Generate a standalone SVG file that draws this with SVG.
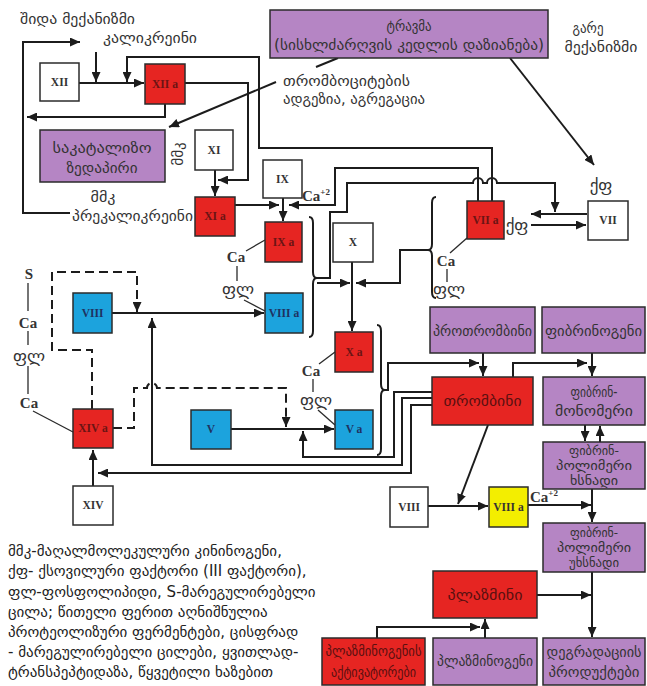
<svg xmlns="http://www.w3.org/2000/svg" width="647" height="686" viewBox="0 0 647 686">
<style>
.ln{stroke:#1c1c1c;stroke-width:2;fill:none}
.ds{stroke-dasharray:9,5}
.th{stroke:#2a2a2a;stroke-width:1.3;fill:none}
.bx{stroke:#2b2b2b;stroke-width:1.5}
.w{fill:#ffffff}
.r{fill:#e62522}
.b{fill:#1ca3dd}
.p{fill:#b585c4}
.y{fill:#f3ee00}
.rn{font-family:"Liberation Serif",serif;font-weight:bold;font-size:11.5px;text-anchor:middle}
.rw{fill:#333}
.rr{fill:#6b1414}
.rb{fill:#1f3260}
.g{font-family:"DejaVu Sans",sans-serif;font-size:15px;fill:#333}
.c{text-anchor:middle}
.gr{fill:#5a1010}
.ca{font-family:"Liberation Serif",serif;font-weight:bold;font-size:15px;fill:#333;text-anchor:middle}
.sup{font-size:9px}
.fl{font-family:"DejaVu Sans",sans-serif;font-size:17px;fill:#333;text-anchor:middle}
.lg{font-family:"DejaVu Sans",sans-serif;font-size:15px;fill:#222}
.s3{font-size:12px}
</style>
<defs>
<marker id="ah" markerUnits="userSpaceOnUse" markerWidth="11" markerHeight="9" refX="10" refY="4.5" orient="auto">
<path d="M0,0 L10,4.5 L0,9 z" fill="#1c1c1c"/>
</marker>
</defs>
<rect width="647" height="686" fill="#ffffff"/>

<!-- free labels -->
<text class="g" x="20" y="24" textLength="115" lengthAdjust="spacingAndGlyphs">შიდა მექანიზმი</text>
<text class="g" x="103" y="43" textLength="94" lengthAdjust="spacingAndGlyphs">კალიკრეინი</text>
<text class="g c" x="588" y="33" font-size="14" textLength="31" lengthAdjust="spacingAndGlyphs">გარე</text>
<text class="g c" x="601" y="52" font-size="14" textLength="73" lengthAdjust="spacingAndGlyphs">მექანიზმი</text>
<text class="g" x="283" y="86" textLength="127" lengthAdjust="spacingAndGlyphs">თრომბოციტების</text>
<text class="g" x="283" y="104" textLength="142" lengthAdjust="spacingAndGlyphs">ადგეზია, აგრეგაცია</text>
<text class="g c" transform="translate(183,154) rotate(-90)" font-size="14">მმკ</text>
<text class="g c" x="103" y="202" font-size="13" textLength="25" lengthAdjust="spacingAndGlyphs">მმკ</text>
<text class="g" x="72" y="221" textLength="121" lengthAdjust="spacingAndGlyphs">პრეკალიკრეინი</text>
<text class="ca" x="316" y="201">Ca<tspan class="sup" dy="-6">+2</tspan></text>
<text class="fl" x="601" y="191">ქფ</text>
<text class="fl" x="517" y="231">ქფ</text>
<text class="ca" x="236" y="262">Ca</text>
<text class="fl" x="238" y="295">ფლ</text>
<text class="ca" x="446" y="266">Ca</text>
<text class="fl" x="449" y="295">ფლ</text>
<text class="ca" x="311" y="376">Ca</text>
<text class="fl" x="316" y="406">ფლ</text>
<text class="ca" x="29" y="279">S</text>
<text class="ca" x="28" y="328">Ca</text>
<text class="fl" x="29" y="362">ფლ</text>
<text class="ca" x="29" y="408">Ca</text>
<text class="ca" x="544" y="502">Ca<tspan class="sup" dy="-6">+2</tspan></text>

<!-- legend -->
<g id="legend">
<text class="lg" x="8" y="556">მმკ-მაღალმოლეკულური კინინოგენი,</text>
<text class="lg" x="8" y="576">ქფ- ქსოვილური ფაქტორი (III ფაქტორი),</text>
<text class="lg" x="8" y="597">ფლ-ფოსფოლიპიდი,  S-მარეგულირებელი</text>
<text class="lg" x="8" y="617">ცილა;  წითელი ფერით აღნიშნულია</text>
<text class="lg" x="8" y="637">პროტეოლიზური ფერმენტები, ცისფრად</text>
<text class="lg" x="8" y="657">- მარეგულირებელი ცილები, ყვითლად-</text>
<text class="lg" x="8" y="677">ტრანსპეპტიდაზა, წყვეტილი ხაზებით</text>
</g>

<!-- connectors -->
<g id="connectors">
<path class="ln" d="M70,213 H23 V42 H80" marker-end="url(#ah)"/>
<path class="ln" d="M96,52 V82" marker-end="url(#ah)"/>
<path class="ln" d="M79,83 H144" marker-end="url(#ah)"/>
<path class="ln" d="M492,201 V148 H259 V57 H127 V82" marker-end="url(#ah)"/>
<path class="ln" d="M185,83 H248 V180 H218" marker-end="url(#ah)"/>
<path class="ln" d="M165,104 V117 H27" marker-end="url(#ah)"/>
<path class="ln" d="M276,82 L169,127" marker-end="url(#ah)"/>
<path class="ln" d="M338,58 L316,67"/>
<path class="ln" d="M510,58 L594,165" marker-end="url(#ah)"/>
<path class="ln" d="M215,170 V196" marker-end="url(#ah)"/>
<path class="ln" d="M235,205 H279" marker-end="url(#ah)"/>
<path class="ln" d="M283,198 V221" marker-end="url(#ah)"/>
<path class="ln" d="M478,201 V168 H335 V205 H289" marker-end="url(#ah)"/>
<path class="ln" d="M317,278 H330 V212 H347 V183 H473 a5,5 0 0 1 10,0 H487 a5,5 0 0 1 10,0 H555 V212" marker-end="url(#ah)"/>
<path class="ln" d="M317,283 H350" marker-end="url(#ah)"/>
<path class="ln" d="M428,250 H400 V283 H356" marker-end="url(#ah)"/>
<path class="ln" d="M352,262 V331" marker-end="url(#ah)"/>
<path class="ln" d="M587,214 H531" marker-end="url(#ah)"/>
<path class="ln" d="M531,225 H586" marker-end="url(#ah)"/>
<path class="ln" d="M112,313 H264" marker-end="url(#ah)"/>
<path class="ln ds" d="M92,409 V350 H52 V272 H137 V312" marker-end="url(#ah)"/>
<path class="ln" d="M432,398 H402 V465 H152 V318" marker-end="url(#ah)"/>
<path class="ln" d="M432,392 H394 V457 H303 V431" marker-end="url(#ah)"/>
<path class="ln" d="M432,405 H411 V473 H98" marker-end="url(#ah)"/>
<path class="ln" d="M93,486 V450" marker-end="url(#ah)"/>
<path class="ln ds" d="M113,428 H134 V388 H147 a5,5 0 0 1 10,0 H286 V427" marker-end="url(#ah)"/>
<path class="ln" d="M231,429 H334" marker-end="url(#ah)"/>
<path class="ln" d="M385,390 H388 V363 H479" marker-end="url(#ah)"/>
<path class="ln" d="M483,353 V376" marker-end="url(#ah)"/>
<path class="ln" d="M513,377 V363 H587" marker-end="url(#ah)"/>
<path class="ln" d="M592,353 V376" marker-end="url(#ah)"/>
<path class="ln" d="M585,425 V441" marker-end="url(#ah)"/>
<path class="ln" d="M600,442 V426" marker-end="url(#ah)"/>
<path class="ln" d="M428,506 H488" marker-end="url(#ah)"/>
<path class="ln" d="M488,425 L458,504" marker-end="url(#ah)"/>
<path class="ln" d="M528,505 H591" marker-end="url(#ah)"/>
<path class="ln" d="M592,489 V522" marker-end="url(#ah)"/>
<path class="ln" d="M537,595 H591" marker-end="url(#ah)"/>
<path class="ln" d="M592,572 V637" marker-end="url(#ah)"/>
<path class="ln" d="M485,638 V619" marker-end="url(#ah)"/>
<path class="ln" d="M377,638 V627 H480" marker-end="url(#ah)"/>
<!-- braces -->
<path class="ln" d="M309,217 Q313,217 313,223 L313,272 Q313,278 317,278 Q313,278 313,284 L313,331 Q313,337 309,337"/>
<path class="ln" d="M377,325 Q381,325 381,331 L381,384 Q381,390 385,390 Q381,390 381,396 L381,449 Q381,455 377,455"/>
<path class="ln" d="M436,197 Q432,197 432,203 L432,244 Q432,250 428,250 Q432,250 432,256 L432,292 Q432,298 436,298"/>
<!-- label connectors -->
<path class="th" d="M265,240 L246,251"/>
<path class="th" d="M237,266 V281"/>
<path class="th" d="M244,300 L265,311"/>
<path class="th" d="M467,238 L450,253"/>
<path class="th" d="M447,269 V282"/>
<path class="th" d="M335,352 L319,364"/>
<path class="th" d="M313,379 V392"/>
<path class="th" d="M318,410 L335,425"/>
<path class="th" d="M28,283 V311"/>
<path class="th" d="M28,331 V345"/>
<path class="th" d="M28,366 V394"/>
<path class="th" d="M33,411 L73,432"/>
</g>

<!-- nodes -->
<g id="n-XII"><rect class="bx w" x="40" y="63" width="39" height="38"/><text class="rn rw" x="59.5" y="86">XII</text></g>
<g id="n-XIIa"><rect class="bx r" x="145" y="64" width="40" height="40"/><text class="rn rr" x="165" y="88">XII a</text></g>
<g id="n-trauma"><rect class="bx p" x="270" y="10" width="278" height="48"/><text class="g c" x="409" y="31" textLength="45" lengthAdjust="spacingAndGlyphs">ტრავმა</text><text class="g c" x="409" y="50" textLength="270" lengthAdjust="spacingAndGlyphs">(სისხლძარღვის კედლის დაზიანება)</text></g>
<g id="n-catalytic"><rect class="bx p" x="40" y="130" width="125" height="52"/><text class="g c" x="102" y="153" textLength="99" lengthAdjust="spacingAndGlyphs">საკატალიზო</text><text class="g c" x="102" y="173" textLength="71" lengthAdjust="spacingAndGlyphs">ზედაპირი</text></g>
<g id="n-XI"><rect class="bx w" x="195" y="130" width="38" height="40"/><text class="rn rw" x="214" y="154">XI</text></g>
<g id="n-XIa"><rect class="bx r" x="195" y="197" width="40" height="39"/><text class="rn rr" x="215" y="220">XI a</text></g>
<g id="n-IX"><rect class="bx w" x="263" y="160" width="39" height="38"/><text class="rn rw" x="282.5" y="183">IX</text></g>
<g id="n-IXa"><rect class="bx r" x="265" y="222" width="37" height="40"/><text class="rn rr" x="283.5" y="246">IX a</text></g>
<g id="n-VIII"><rect class="bx b" x="73" y="293" width="39" height="40"/><text class="rn rb" x="92.5" y="317">VIII</text></g>
<g id="n-VIIIa"><rect class="bx b" x="265" y="293" width="38" height="40"/><text class="rn rb" x="284" y="317">VIII a</text></g>
<g id="n-X"><rect class="bx w" x="333" y="223" width="40" height="39"/><text class="rn rw" x="353" y="246">X</text></g>
<g id="n-Xa"><rect class="bx r" x="335" y="332" width="38" height="40"/><text class="rn rr" x="354" y="356">X a</text></g>
<g id="n-VIIa"><rect class="bx r" x="467" y="201" width="37" height="38"/><text class="rn rr" x="485.5" y="224">VII a</text></g>
<g id="n-VII"><rect class="bx w" x="588" y="201" width="40" height="39"/><text class="rn rw" x="608" y="224">VII</text></g>
<g id="n-V"><rect class="bx b" x="191" y="410" width="40" height="39"/><text class="rn rb" x="211" y="433">V</text></g>
<g id="n-Va"><rect class="bx b" x="335" y="410" width="38" height="39"/><text class="rn rb" x="354" y="433">V a</text></g>
<g id="n-XIVa"><rect class="bx r" x="73" y="409" width="40" height="39"/><text class="rn rr" x="93" y="432">XIV a</text></g>
<g id="n-XIV"><rect class="bx w" x="73" y="486" width="40" height="39"/><text class="rn rw" x="93" y="509">XIV</text></g>
<g id="n-prothrombin"><rect class="bx p" x="430" y="307" width="105" height="46"/><text class="g c" x="482.5" y="336" textLength="99" lengthAdjust="spacingAndGlyphs">პროთრომბინი</text></g>
<g id="n-fibrinogen"><rect class="bx p" x="542" y="307" width="103" height="46"/><text class="g c" x="593.5" y="336" textLength="97" lengthAdjust="spacingAndGlyphs">ფიბრინოგენი</text></g>
<g id="n-thrombin"><rect class="bx r" x="432" y="377" width="101" height="48"/><text class="g c gr" x="482.5" y="406" font-size="16" textLength="78" lengthAdjust="spacingAndGlyphs">თრომბინი</text></g>
<g id="n-monomer"><rect class="bx p" x="543" y="377" width="102" height="48"/><text class="g c" x="594" y="397" textLength="47" lengthAdjust="spacingAndGlyphs">ფიბრინ-</text><text class="g c" x="594" y="416" textLength="78" lengthAdjust="spacingAndGlyphs">მონომერი</text></g>
<g id="n-polymer-soluble"><rect class="bx p" x="543" y="442" width="102" height="47"/><text class="g c s3" x="594" y="455" textLength="50" lengthAdjust="spacingAndGlyphs">ფიბრინ-</text><text class="g c s3" x="594" y="470" textLength="76" lengthAdjust="spacingAndGlyphs">პოლიმერი</text><text class="g c s3" x="594" y="485" textLength="48" lengthAdjust="spacingAndGlyphs">ხსნადი</text></g>
<g id="n-VIII-2"><rect class="bx w" x="390" y="487" width="38" height="40"/><text class="rn rw" x="409" y="511">VIII</text></g>
<g id="n-VIIIa-2"><rect class="bx y" x="489" y="487" width="39" height="40"/><text class="rn rw" x="508.5" y="511">VIII a</text></g>
<g id="n-polymer-insoluble"><rect class="bx p" x="543" y="523" width="102" height="49"/><text class="g c s3" x="594" y="537" textLength="48" lengthAdjust="spacingAndGlyphs">ფიბრინ-</text><text class="g c s3" x="594" y="552" textLength="74" lengthAdjust="spacingAndGlyphs">პოლიმერი</text><text class="g c s3" x="594" y="567" textLength="50" lengthAdjust="spacingAndGlyphs">უხსნადი</text></g>
<g id="n-plasmin"><rect class="bx r" x="433" y="571" width="104" height="47"/><text class="g c gr" x="485" y="600" textLength="75" lengthAdjust="spacingAndGlyphs">პლაზმინი</text></g>
<g id="n-activators"><rect class="bx r" x="322" y="638" width="103" height="47"/><text class="g c gr" x="373.5" y="656" font-size="14" textLength="96" lengthAdjust="spacingAndGlyphs">პლაზმინოგენის</text><text class="g c gr" x="373.5" y="677" font-size="14" textLength="85" lengthAdjust="spacingAndGlyphs">აქტივატორები</text></g>
<g id="n-plasminogen"><rect class="bx p" x="433" y="638" width="104" height="47"/><text class="g c" x="485" y="666" textLength="96" lengthAdjust="spacingAndGlyphs">პლაზმინოგენი</text></g>
<g id="n-degradation"><rect class="bx p" x="543" y="638" width="102" height="47"/><text class="g c" x="594" y="657" textLength="95" lengthAdjust="spacingAndGlyphs">დეგრადაციის</text><text class="g c" x="594" y="677" textLength="91" lengthAdjust="spacingAndGlyphs">პროდუქტები</text></g>
</svg>
